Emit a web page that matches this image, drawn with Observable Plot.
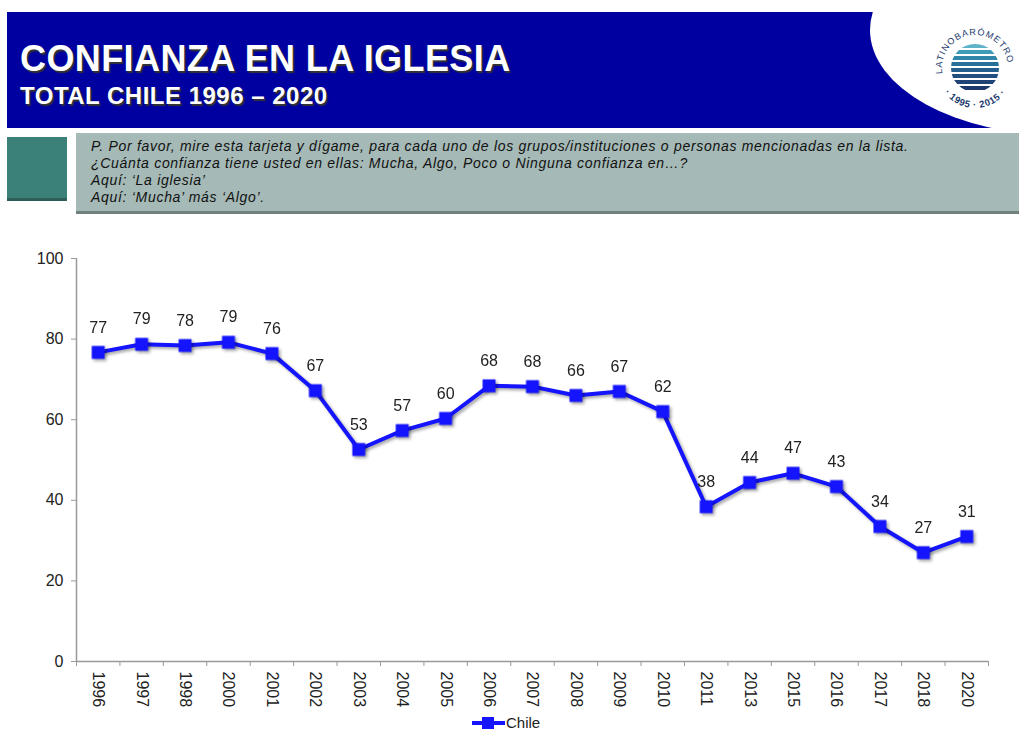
<!DOCTYPE html>
<html>
<head>
<meta charset="utf-8">
<script src="https://cdn.jsdelivr.net/npm/d3@7"></script>
<script src="https://cdn.jsdelivr.net/npm/@observablehq/plot@0.6"></script>
<style>
  body { margin:0; width:1019px; height:729px; background:#fff; position:relative; overflow:hidden; font-family:"Liberation Sans", Arial, sans-serif; }
  .abs { position:absolute; }
  #banner { left:7px; top:12px; width:1012px; height:116px; }
  #title { left:20px; top:41px; color:#fff; font-weight:bold; font-size:36px; line-height:36px; letter-spacing:0.4px; text-shadow:1.5px 1.5px 1px #333; white-space:nowrap; }
  #subtitle { left:20px; top:84px; color:#fff; font-weight:bold; font-size:24px; line-height:24px; letter-spacing:0.5px; text-shadow:1.5px 1.5px 1px #333; white-space:nowrap; }
  #sq { left:7px; top:137px; width:60px; height:61px; background:#3b8179; border-bottom:3px solid #2d5e58; }
  #qbox { left:76px; top:133px; width:943px; height:78px; background:#a5b9b6; border-bottom:3px solid #6f807d; }
  #qtext { left:91px; top:138px; font-style:italic; font-size:14px; line-height:17px; letter-spacing:0.7px; color:#111; white-space:nowrap; }
  #chart { left:0px; top:240px; }
  #legend { left:472px; top:714px; font-size:15px; color:#222; display:flex; align-items:center; }
</style>
</head>
<body>
<svg id="banner" class="abs" width="1012" height="116">
  <rect x="0" y="0" width="1012" height="116" fill="#0000a0"/>
  <ellipse cx="1053" cy="18" rx="190" ry="105" fill="#fff"/>
  <defs>
    <path id="ring" d="M 936 64 A 33 33 0 1 1 1000 64"/>
    <path id="ringb" d="M 930 58 A 38 38 0 0 0 1006 58"/>
    <clipPath id="globe"><circle cx="968" cy="56" r="24"/></clipPath>
  </defs>
  <g clip-path="url(#globe)">
    <rect x="942" y="30" width="54" height="54" fill="#fff"/>
    <rect x="942" y="32" width="54" height="4" fill="#5fb3c9"/>
    <rect x="942" y="38" width="54" height="4" fill="#3d9bb8"/>
    <rect x="942" y="44" width="54" height="4" fill="#2f86a9"/>
    <rect x="942" y="50" width="54" height="4" fill="#27709a"/>
    <rect x="942" y="56" width="54" height="4" fill="#235f8c"/>
    <rect x="942" y="62" width="54" height="4" fill="#214f7e"/>
    <rect x="942" y="68" width="54" height="4" fill="#1f4374"/>
    <rect x="942" y="74" width="54" height="4" fill="#1d386a"/>
  </g>
  <text font-size="9" fill="#1d3a6e" font-family="Liberation Sans" letter-spacing="1"><textPath href="#ring" startOffset="2%">LATINOBARÓMETRO</textPath></text>
  <text font-size="9.5" fill="#1d3a6e" font-family="Liberation Sans" font-weight="bold" letter-spacing="0.6" text-anchor="middle"><textPath href="#ringb" startOffset="50%">· 1995 · 2015 ·</textPath></text>
</svg>
<div id="title" class="abs">CONFIANZA EN LA IGLESIA</div>
<div id="subtitle" class="abs">TOTAL CHILE 1996 – 2020</div>
<div id="sq" class="abs"></div>
<div id="qbox" class="abs"></div>
<div id="qtext" class="abs">P. Por favor, mire esta tarjeta y dígame, para cada uno de los grupos/instituciones o personas mencionadas en la lista.<br>¿Cuánta confianza tiene usted en ellas: Mucha, Algo, Poco o Ninguna confianza en…?<br>Aquí: ‘La iglesia’<br>Aquí: ‘Mucha’ más ‘Algo’.</div>
<div id="chart" class="abs"></div>
<div id="legend" class="abs">
  <svg width="33" height="16"><line x1="0" y1="8" x2="33" y2="8" stroke="#1414ff" stroke-width="4"/><rect x="10" y="2" width="12" height="12" fill="#1414ff"/></svg>
  <span style="margin-left:1px">Chile</span>
</div>
<script>
const years = ["1996","1997","1998","2000","2001","2002","2003","2004","2005","2006","2007","2008","2009","2010","2011","2013","2015","2016","2017","2018","2020"];
const values = [76.7,78.7,78.4,79.2,76.4,67.2,52.6,57.3,60.3,68.4,68.2,66.0,67.0,62.0,38.4,44.4,46.7,43.4,33.5,27.0,31.0];
const labels = [77,79,78,79,76,67,53,57,60,68,68,66,67,62,38,44,47,43,34,27,31];
const yTicks = [0,20,40,60,80,100];

const data = years.map((year, i) => ({i, year, value: values[i], label: labels[i]}));

const plot = Plot.plot({
  width: 1019,
  height: 473,
  marginLeft: 76,
  marginRight: 31,
  marginTop: 18,
  marginBottom: 52,
  style: {fontFamily: "Liberation Sans, Arial, sans-serif", fontSize: "15px", color: "#222", background: "transparent"},
  x: {type: "linear", domain: [0, years.length]},
  y: {domain: [0, 100]},
  marks: [
    Plot.ruleX([0], {y1: 0, y2: 100, stroke: "#999", strokeWidth: 1.5}),
    Plot.ruleY([0], {stroke: "#999", strokeWidth: 1.5}),
    Plot.axisY({ticks: yTicks, tickSize: 5, tickPadding: 8, stroke: "#999", fontSize: 16, fill: "#222", label: null}),
    Plot.axisX({ticks: d3.range(years.length + 1), tickFormat: () => "", tickSize: 5, stroke: "#999", label: null}),
    Plot.axisX({ticks: d3.range(years.length).map(i => i + 0.5), tickFormat: d => years[Math.floor(d)], tickSize: 0, tickPadding: 10, tickRotate: 90, fontSize: 16, fill: "#222", label: null}),
    Plot.line(data, {x: d => d.i + 0.5, y: "value", stroke: "#1414ff", strokeWidth: 4}),
    Plot.dot(data, {x: d => d.i + 0.5, y: "value", symbol: "square", r: 7.3, fill: "#1414ff", stroke: "none"}),
    Plot.text(data, {x: d => d.i + 0.5, y: "value", text: "label", dy: -25, fontSize: 16, fill: "#222"})
  ]
});
document.getElementById("chart").appendChild(plot);
plot.querySelectorAll('g[aria-label="line"], g[aria-label="dot"]').forEach(g => g.style.filter = "drop-shadow(2px 2px 1.5px rgba(0,0,0,0.35))");
</script>
</body>
</html>
